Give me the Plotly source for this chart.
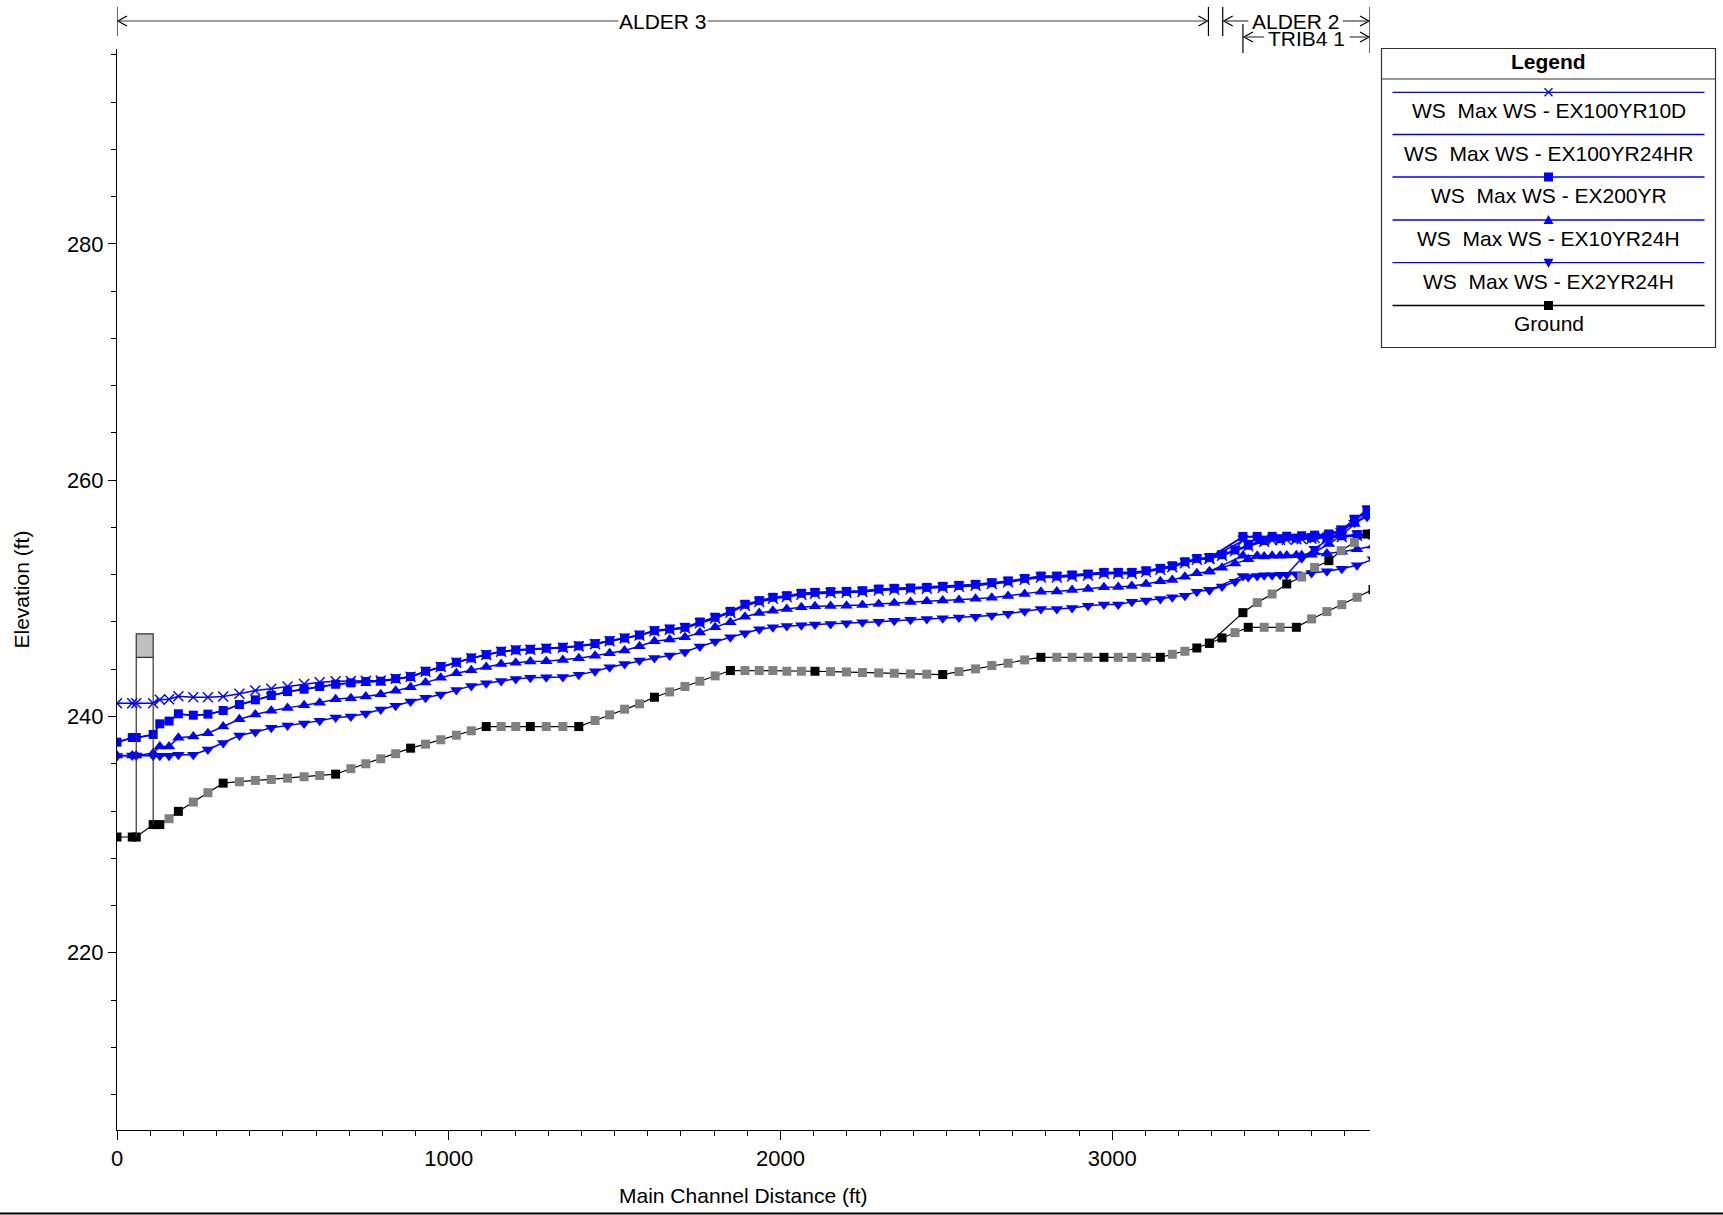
import plotly.graph_objects as go

# ---------------- River stations (ft along main channel) ----------------
alder3_sta = [0, 46, 58, 109, 129, 157, 185, 230, 274, 320,
              369, 417, 465, 514, 564, 611, 659, 705, 750, 795,
              840, 885, 930, 976, 1023, 1068, 1113, 1158, 1202, 1246,
              1294, 1344, 1392, 1441, 1485, 1530, 1575, 1620, 1666, 1712,
              1757, 1803, 1849, 1893, 1936, 1977, 2019, 2063, 2104, 2151,
              2199, 2247, 2296, 2343, 2392, 2441, 2489, 2538, 2588, 2637,
              2686, 2736, 2785, 2833, 2879, 2927, 2975, 3018, 3059, 3102,
              3145, 3181, 3219, 3255, 3293]
alder2_sta = [3331, 3370, 3410, 3458, 3506, 3555, 3601, 3647, 3692, 3738, 3786]
trib4_sta = [3394, 3437, 3482, 3526, 3571, 3610, 3653, 3690, 3730, 3768]

# ---------------- Ground (channel invert, ft) ----------------
ground_alder3 = [229.80, 229.80, 229.80, 230.85, 230.85, 231.35, 231.97, 232.76, 233.55, 234.36,
                 234.48, 234.59, 234.67, 234.78, 234.90, 235.01, 235.12, 235.58, 236.00, 236.42,
                 236.85, 237.32, 237.66, 238.03, 238.42, 238.79, 239.15, 239.15, 239.15, 239.15,
                 239.15, 239.15, 239.15, 239.66, 240.14, 240.62, 241.07, 241.63, 242.08, 242.54,
                 242.99, 243.44, 243.89, 243.89, 243.89, 243.89, 243.83, 243.83, 243.83, 243.80,
                 243.77, 243.72, 243.69, 243.66, 243.60, 243.58, 243.55, 243.80, 244.03, 244.31,
                 244.51, 244.79, 245.01, 245.01, 245.01, 245.01, 245.01, 245.01, 245.01, 245.01,
                 245.01, 245.27, 245.52, 245.80, 246.20]
ground_alder2 = [246.65, 247.10, 247.55, 247.55, 247.55, 247.55, 248.26, 248.88, 249.47, 250.09, 250.75]
ground_trib4 = [248.79, 249.64, 250.37, 251.22, 251.81, 252.62, 253.19, 254.03, 254.74, 255.44]

# surveyed cross sections (others are interpolated sections)
surveyed_sta = [0, 46, 58, 109, 129, 185, 320, 659, 885, 1113, 1246, 1392, 1620, 1849,
                2104, 2489, 2785, 2975, 3145, 3255, 3293,
                3331, 3410, 3555, 3786,
                3394, 3526, 3653, 3768]

# ---------------- Max water surface, per profile ----------------
ex100yr10d_alder3 = [241.13, 241.13, 241.13, 241.13, 241.41, 241.47, 241.72, 241.63, 241.63, 241.69,
                     241.92, 242.20, 242.34, 242.54, 242.76, 242.90, 242.99, 243.00, 243.02, 243.05,
                     243.20, 243.36, 243.79, 244.19, 244.55, 244.92, 245.20, 245.48, 245.60, 245.65,
                     245.74, 245.82, 245.94, 246.12, 246.37, 246.60, 246.85, 247.21, 247.34, 247.47,
                     247.90, 248.30, 248.79, 249.38, 249.69, 249.97, 250.11, 250.31, 250.39, 250.45,
                     250.47, 250.53, 250.67, 250.73, 250.76, 250.81, 250.90, 250.98, 251.07, 251.21,
                     251.36, 251.57, 251.77, 251.77, 251.86, 251.94, 252.08, 252.08, 252.09, 252.22,
                     252.42, 252.64, 252.98, 253.27, 253.35]
ex100yr10d_alder2 = [253.60, 254.00, 254.40, 254.80, 254.95, 255.00, 255.05, 255.10, 255.20, 255.30, 255.40]
ex100yr10d_trib4 = [254.90, 254.90, 254.92, 254.95, 255.00, 255.10, 255.30, 255.70, 256.60, 257.40]

ex100yr24hr_alder3 = [237.80, 238.19, 238.19, 238.45, 239.34, 239.57, 240.19, 240.08, 240.17, 240.48,
                      240.98, 241.38, 241.75, 242.08, 242.28, 242.51, 242.70, 242.82, 242.93, 242.96,
                      243.18, 243.35, 243.80, 244.20, 244.56, 244.93, 245.21, 245.49, 245.61, 245.66,
                      245.75, 245.83, 245.95, 246.14, 246.39, 246.62, 246.87, 247.24, 247.38, 247.52,
                      247.96, 248.36, 248.85, 249.45, 249.76, 250.04, 250.18, 250.38, 250.46, 250.52,
                      250.54, 250.60, 250.74, 250.80, 250.83, 250.88, 250.97, 251.05, 251.14, 251.28,
                      251.43, 251.64, 251.84, 251.84, 251.93, 252.01, 252.15, 252.15, 252.15, 252.29,
                      252.49, 252.71, 253.05, 253.33, 253.40]
ex100yr24hr_alder2 = [253.65, 254.05, 254.45, 254.85, 255.00, 255.05, 255.10, 255.15, 255.25, 255.35, 255.45]
ex100yr24hr_trib4 = [255.20, 255.20, 255.20, 255.22, 255.25, 255.30, 255.40, 255.75, 256.60, 257.45]

ex200yr_alder3 = [237.83, 238.22, 238.22, 238.48, 239.38, 239.61, 240.23, 240.11, 240.20, 240.51,
                  241.01, 241.41, 241.78, 242.11, 242.31, 242.54, 242.73, 242.85, 242.96, 242.99,
                  243.21, 243.38, 243.83, 244.23, 244.59, 244.96, 245.24, 245.52, 245.64, 245.69,
                  245.78, 245.86, 245.98, 246.17, 246.42, 246.65, 246.90, 247.27, 247.41, 247.55,
                  248.00, 248.40, 248.90, 249.50, 249.81, 250.09, 250.23, 250.43, 250.51, 250.57,
                  250.59, 250.65, 250.79, 250.85, 250.88, 250.93, 251.02, 251.10, 251.19, 251.33,
                  251.48, 251.69, 251.89, 251.89, 251.98, 252.06, 252.20, 252.20, 252.20, 252.34,
                  252.54, 252.76, 253.10, 253.38, 253.45]
ex200yr_alder2 = [253.70, 254.10, 254.50, 254.90, 255.05, 255.10, 255.15, 255.20, 255.30, 255.40, 255.50]
ex200yr_trib4 = [255.24, 255.24, 255.25, 255.26, 255.30, 255.35, 255.45, 255.80, 256.70, 257.50]

ex10yr24h_alder3 = [236.70, 236.70, 236.70, 236.90, 237.46, 237.46, 238.20, 238.31, 238.59, 239.15,
                    239.77, 240.17, 240.48, 240.73, 240.96, 241.16, 241.47, 241.55, 241.69, 241.89,
                    242.17, 242.48, 242.87, 243.27, 243.66, 243.92, 244.20, 244.45, 244.56, 244.65,
                    244.68, 244.79, 244.94, 245.15, 245.35, 245.58, 245.95, 246.37, 246.51, 246.71,
                    247.10, 247.55, 247.97, 248.45, 248.76, 248.96, 249.10, 249.24, 249.33, 249.36,
                    249.38, 249.44, 249.52, 249.61, 249.69, 249.75, 249.81, 249.86, 249.97, 250.06,
                    250.21, 250.37, 250.57, 250.59, 250.70, 250.79, 250.93, 250.96, 251.05, 251.21,
                    251.44, 251.55, 251.83, 252.12, 252.28]
ex10yr24h_alder2 = [252.60, 252.95, 253.30, 253.55, 253.60, 253.65, 253.70, 253.80, 253.95, 254.15, 254.45]
ex10yr24h_trib4 = [253.60, 253.60, 253.60, 253.62, 253.65, 253.90, 254.60, 255.30, 256.30, 257.20]

ex2yr24h_alder3 = [236.65, 236.70, 236.70, 236.68, 236.68, 236.68, 236.76, 236.76, 237.21, 237.75,
                   238.39, 238.68, 239.04, 239.24, 239.41, 239.63, 239.92, 240.00, 240.25, 240.59,
                   240.90, 241.27, 241.58, 241.86, 242.25, 242.59, 242.82, 243.01, 243.18, 243.27,
                   243.32, 243.35, 243.54, 243.82, 244.17, 244.45, 244.73, 244.96, 245.16, 245.47,
                   245.92, 246.34, 246.71, 247.04, 247.38, 247.55, 247.66, 247.72, 247.78, 247.83,
                   247.89, 247.97, 248.03, 248.11, 248.20, 248.26, 248.31, 248.37, 248.45, 248.54,
                   248.70, 248.90, 249.10, 249.10, 249.19, 249.38, 249.47, 249.47, 249.72, 249.81,
                   249.95, 250.09, 250.23, 250.57, 250.70]
ex2yr24h_alder2 = [251.00, 251.40, 251.80, 251.95, 252.00, 252.05, 252.15, 252.30, 252.50, 252.80, 253.30]
ex2yr24h_trib4 = [251.90, 251.90, 251.95, 252.00, 253.40, 254.20, 255.00, 255.70, 256.40, 256.90]

# ---------------- Bridge ----------------
bridge_sta = [58, 109]
bridge_low_chord = 245.0
bridge_high_chord = 247.0

# ---------------- Reach extents (ft) and labels ----------------
reach_names = ["ALDER 3", "ALDER 2", "TRIB4 1"]
reach_start = [0, 3333, 3394]
reach_end = [3290, 3777, 3777]

profile_names = ["WS  Max WS - EX100YR10D", "WS  Max WS - EX100YR24HR", "WS  Max WS - EX200YR",
                 "WS  Max WS - EX10YR24H", "WS  Max WS - EX2YR24H", "Ground"]

x_range = [0, 3777]
y_range = [205.0, 296.5]
x_ticks_major, x_ticks_minor = 1000, 100
y_ticks_major, y_ticks_minor = 20, 4

# ---------------- Page geometry ----------------
W, H = 1723, 1215
ML, MR, MT, MB = 117, 353, 49, 85
PW = W - ML - MR
PH = H - MT - MB


def px(X):
    return (X - ML) / PW


def py(Y):
    return (H - MB - Y) / PH


FONT = "Liberation Sans, Arial, Helvetica, sans-serif"
BLUE = "#0000FF"
GRAY = "#808080"
WS_WIDTH = 1.5

fig = go.Figure()

profiles = [
    (ex100yr10d_alder3, ex100yr10d_alder2, ex100yr10d_trib4,
     dict(symbol="x-thin", size=10, line=dict(color=BLUE, width=1.4))),
    (ex100yr24hr_alder3, ex100yr24hr_alder2, ex100yr24hr_trib4, None),
    (ex200yr_alder3, ex200yr_alder2, ex200yr_trib4, dict(symbol="square", size=9, color=BLUE)),
    (ex10yr24h_alder3, ex10yr24h_alder2, ex10yr24h_trib4, dict(symbol="triangle-up", size=11, color=BLUE)),
    (ex2yr24h_alder3, ex2yr24h_alder2, ex2yr24h_trib4, dict(symbol="triangle-down", size=11, color=BLUE)),
]

for (a3, a2, t4, mk), name in zip(profiles, profile_names):
    mode = "lines" if mk is None else "lines+markers"
    # main stem: ALDER 3 continuing into ALDER 2
    fig.add_trace(go.Scatter(x=alder3_sta + alder2_sta, y=a3 + a2, mode=mode, name=name,
                             line=dict(color=BLUE, width=WS_WIDTH), marker=mk, showlegend=False))
    # tributary branch from the junction
    fig.add_trace(go.Scatter(x=[alder3_sta[-1]] + trib4_sta, y=[a3[-1]] + t4, mode=mode, name=name,
                             line=dict(color=BLUE, width=WS_WIDTH), marker=mk, showlegend=False))


def ground_colors(stations):
    return ["#000000" if s in surveyed_sta else GRAY for s in stations]


fig.add_trace(go.Scatter(x=alder3_sta + alder2_sta, y=ground_alder3 + ground_alder2,
                         mode="lines+markers", name="Ground", showlegend=False,
                         line=dict(color="black", width=1.2),
                         marker=dict(symbol="square", size=9,
                                     color=ground_colors(alder3_sta + alder2_sta))))
fig.add_trace(go.Scatter(x=[alder3_sta[-1]] + trib4_sta, y=[ground_alder3[-1]] + ground_trib4,
                         mode="lines+markers", name="Ground", showlegend=False,
                         line=dict(color="black", width=1.2),
                         marker=dict(symbol="square", size=9,
                                     color=ground_colors([alder3_sta[-1]] + trib4_sta))))

shapes = []
annotations = []

# bridge deck and abutment lines
g_left = ground_alder3[alder3_sta.index(bridge_sta[0])]
g_right = ground_alder3[alder3_sta.index(bridge_sta[1])]
shapes.append(dict(type="rect", xref="x", yref="y", x0=bridge_sta[0], x1=bridge_sta[1],
                   y0=bridge_low_chord, y1=bridge_high_chord,
                   fillcolor="#C0C0C0", line=dict(color="#333333", width=1.2), layer="above"))
shapes.append(dict(type="line", xref="x", yref="y", x0=bridge_sta[0], x1=bridge_sta[0],
                   y0=g_left, y1=bridge_low_chord, line=dict(color="#333333", width=1.2)))
shapes.append(dict(type="line", xref="x", yref="y", x0=bridge_sta[1], x1=bridge_sta[1],
                   y0=g_right, y1=bridge_low_chord, line=dict(color="#333333", width=1.2)))

# ---------------- Reach extent markers above the plot ----------------
LINE_C = "#404040"


def hline_px(x0, x1, Y):
    shapes.append(dict(type="line", xref="x", yref="paper", x0=x0, x1=x1, y0=py(Y), y1=py(Y),
                       line=dict(color=LINE_C, width=1.2)))


def vbar(x, Y0, Y1):
    shapes.append(dict(type="line", xref="x", yref="paper", x0=x, x1=x, y0=py(Y0), y1=py(Y1),
                       line=dict(color="black", width=1.2)))


def chevron(x, Y, direction):
    d = 1 if direction == "left" else -1
    shapes.append(dict(type="path", xref="x", yref="paper", xsizemode="pixel", ysizemode="pixel",
                       xanchor=x, yanchor=py(Y),
                       path=f"M {d*10},5 L {d*1},0 L {d*10},-5",
                       line=dict(color="black", width=1.2)))


row_y = [21, 21, 37]
for i, name in enumerate(reach_names):
    vbar(reach_start[i], 7 if i < 2 else 24, 36 if i < 2 else 53)
    chevron(reach_start[i], row_y[i], "left")
    chevron(reach_end[i], row_y[i], "right")
vbar(reach_end[0], 7, 36)
vbar(reach_end[1], 7, 53)

# ALDER 3 line (text box hides the middle)
hline_px(reach_start[0], reach_end[0], row_y[0])
annotations.append(dict(text=reach_names[0], xref="x", yref="paper",
                        x=(reach_start[0] + reach_end[0]) / 2, y=py(row_y[0] + 1),
                        showarrow=False, bgcolor="white", font=dict(family=FONT, size=21, color="black"),
                        xanchor="center", yanchor="middle", borderpad=0))
# ALDER 2 and TRIB4 1: lines broken around the text
hline_px(reach_start[1], 3410, row_y[1])
hline_px(3695, reach_end[1], row_y[1])
hline_px(reach_start[2], 3458, row_y[2])
hline_px(3716, reach_end[2], row_y[2])
annotations.append(dict(text=reach_names[1], xref="x", yref="paper",
                        x=(reach_start[1] + reach_end[1]) / 2, y=py(row_y[1] + 1),
                        showarrow=False, font=dict(family=FONT, size=21, color="black"),
                        xanchor="center", yanchor="middle"))
annotations.append(dict(text=reach_names[2], xref="x", yref="paper",
                        x=(reach_start[2] + reach_end[2]) / 2, y=py(row_y[2] + 1),
                        showarrow=False, font=dict(family=FONT, size=21, color="black"),
                        xanchor="center", yanchor="middle"))

# ---------------- Legend box ----------------
LX0, LX1, LY0, LY1 = 1381.5, 1715.5, 48.5, 347.5
shapes.append(dict(type="rect", xref="paper", yref="paper", x0=px(LX0), x1=px(LX1),
                   y0=py(LY1), y1=py(LY0), line=dict(color="#333333", width=1.2), fillcolor="white",
                   layer="above"))
shapes.append(dict(type="line", xref="paper", yref="paper", x0=px(LX0), x1=px(LX1),
                   y0=py(79), y1=py(79), line=dict(color="#333333", width=1.2)))
annotations.append(dict(text="<b>Legend</b>", xref="paper", yref="paper", x=px((LX0 + LX1) / 2),
                        y=py(61.5), showarrow=False, xanchor="center", yanchor="middle",
                        font=dict(family=FONT, size=21, color="black")))

entry_line_y = [92.3, 134.5, 177.0, 220.0, 262.7, 305.5]
entry_text_y = [111.0, 153.5, 195.5, 238.0, 281.0, 323.5]
entry_color = [BLUE, BLUE, BLUE, BLUE, BLUE, "black"]
entry_marker = ["x", None, "square", "triangle-up", "triangle-down", "square"]
mx = px(1548.5)
for i, name in enumerate(profile_names):
    shapes.append(dict(type="line", xref="paper", yref="paper", x0=px(1392.5), x1=px(1704.5),
                       y0=py(entry_line_y[i]), y1=py(entry_line_y[i]),
                       line=dict(color=entry_color[i], width=1.3)))
    annotations.append(dict(text=name.replace("  ", "\u00a0\u00a0"), xref="paper", yref="paper",
                            x=px((LX0 + LX1) / 2), y=py(entry_text_y[i]), showarrow=False,
                            xanchor="center", yanchor="middle",
                            font=dict(family=FONT, size=21, color="black")))
    m = entry_marker[i]
    base = dict(xref="paper", yref="paper", xsizemode="pixel", ysizemode="pixel",
                xanchor=mx, yanchor=py(entry_line_y[i]))
    if m == "x":
        shapes.append(dict(type="path", path="M -4,-4 L 4,4 M -4,4 L 4,-4",
                           line=dict(color=entry_color[i], width=1.3), **base))
    elif m == "square":
        shapes.append(dict(type="rect", x0=-4.5, x1=4.5, y0=-4.5, y1=4.5, fillcolor=entry_color[i],
                           line=dict(width=0), **base))
    elif m == "triangle-up":
        shapes.append(dict(type="path", path="M -5,-4 L 5,-4 L 0,5 Z", fillcolor=entry_color[i],
                           line=dict(width=0), **base))
    elif m == "triangle-down":
        shapes.append(dict(type="path", path="M -5,4 L 5,4 L 0,-5 Z", fillcolor=entry_color[i],
                           line=dict(width=0), **base))

# axis titles
annotations.append(dict(text="Main Channel Distance (ft)", xref="paper", yref="paper", x=0.5,
                        y=py(1195), showarrow=False, xanchor="center", yanchor="middle",
                        font=dict(family=FONT, size=21, color="black")))
annotations.append(dict(text="Elevation (ft)", xref="paper", yref="paper", x=px(21),
                        y=0.5, showarrow=False, xanchor="center", yanchor="middle", textangle=-90,
                        font=dict(family=FONT, size=21, color="black")))

# bottom rule
shapes.append(dict(type="line", xref="paper", yref="paper", x0=px(0), x1=px(W), y0=py(1213.5),
                   y1=py(1213.5), line=dict(color="black", width=2)))

fig.update_layout(
    width=W, height=H,
    margin=dict(l=ML, r=MR, t=MT, b=MB, pad=0),
    paper_bgcolor="white", plot_bgcolor="white",
    showlegend=False,
    font=dict(family=FONT, size=21, color="black"),
    shapes=shapes, annotations=annotations,
    xaxis=dict(range=x_range, showgrid=False, zeroline=False, showline=True, linecolor="black",
               linewidth=1, ticks="outside", ticklen=9, tickwidth=1, tickcolor="black",
               tick0=0, dtick=x_ticks_major, tickformat="d",
               tickfont=dict(family=FONT, size=22, color="black"),
               minor=dict(dtick=x_ticks_minor, ticks="outside", ticklen=5, tickcolor="black", tickwidth=1)),
    yaxis=dict(range=y_range, showgrid=False, zeroline=False, showline=True, linecolor="black",
               linewidth=1, ticks="outside", ticklen=8, tickwidth=1, tickcolor="black",
               tick0=0, dtick=y_ticks_major, tickformat="d",
               tickfont=dict(family=FONT, size=22, color="black"),
               minor=dict(dtick=y_ticks_minor, ticks="outside", ticklen=5, tickcolor="black", tickwidth=1)),
)

fig.write_html("out.html")
